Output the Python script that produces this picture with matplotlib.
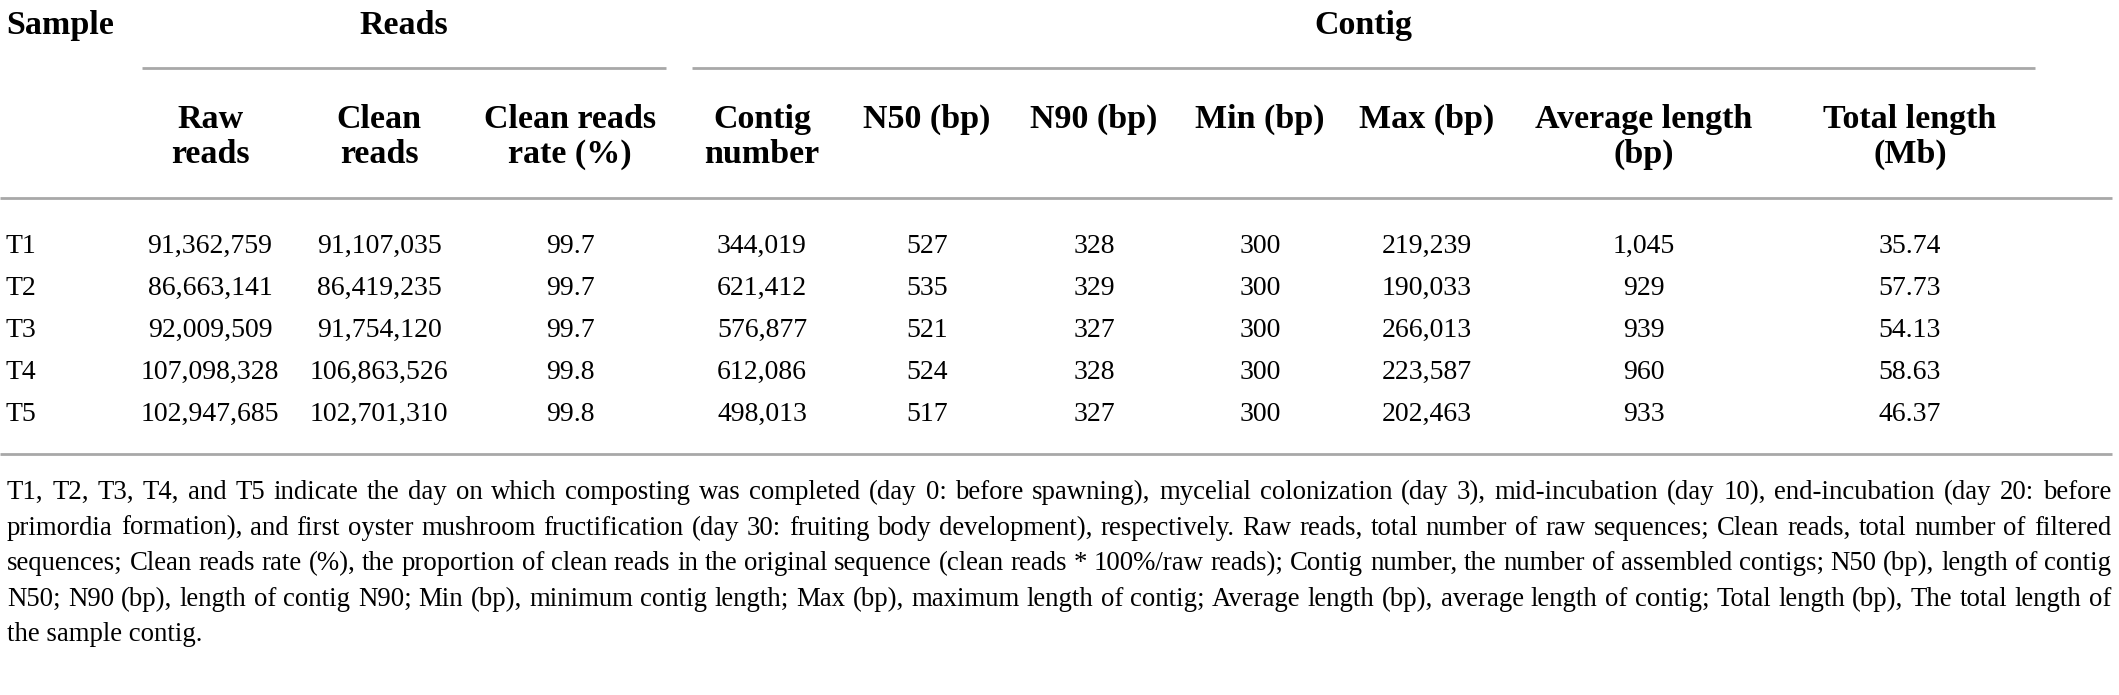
import matplotlib
matplotlib.use('Agg')
import matplotlib.pyplot as plt
from matplotlib.font_manager import FontProperties

# ---------------- data ----------------
samples = ['T1', 'T2', 'T3', 'T4', 'T5']
raw_reads = [91362759, 86663141, 92009509, 107098328, 102947685]
clean_reads = [91107035, 86419235, 91754120, 106863526, 102701310]
clean_rate = [99.7, 99.7, 99.7, 99.8, 99.8]
contig_number = [344019, 621412, 576877, 612086, 498013]
n50_bp = [527, 535, 521, 524, 517]
n90_bp = [328, 329, 327, 328, 327]
min_bp = [300, 300, 300, 300, 300]
max_bp = [219239, 190033, 266013, 223587, 202463]
avg_len_bp = [1045, 929, 939, 960, 933]
total_len_mb = [35.74, 57.73, 54.13, 58.63, 46.37]

first_header = 'Sample'
group_headers = ['Reads', 'Contig']
col_headers = [['Raw', 'reads'], ['Clean', 'reads'], ['Clean reads', 'rate (%)'],
               ['Contig', 'number'], ['N50 (bp)'], ['N90 (bp)'], ['Min (bp)'],
               ['Max (bp)'], ['Average length', '(bp)'], ['Total length', '(Mb)']]

footnote_lines = [
    "T1, T2, T3, T4, and T5 indicate the day on which composting was completed (day 0: before spawning), mycelial colonization (day 3), mid-incubation (day 10), end-incubation (day 20: before",
    "primordia formation), and first oyster mushroom fructification (day 30: fruiting body development), respectively. Raw reads, total number of raw sequences; Clean reads, total number of filtered",
    "sequences; Clean reads rate (%), the proportion of clean reads in the original sequence (clean reads * 100%/raw reads); Contig number, the number of assembled contigs; N50 (bp), length of contig",
    "N50; N90 (bp), length of contig N90; Min (bp), minimum contig length; Max (bp), maximum length of contig; Average length (bp), average length of contig; Total length (bp), The total length of",
    "the sample contig.",
]

# ---------------- formatting ----------------
columns = [
    [f"{v:,}" for v in raw_reads],
    [f"{v:,}" for v in clean_reads],
    [f"{v:.1f}" for v in clean_rate],
    [f"{v:,}" for v in contig_number],
    [f"{v}" for v in n50_bp],
    [f"{v}" for v in n90_bp],
    [f"{v}" for v in min_bp],
    [f"{v:,}" for v in max_bp],
    [f"{v:,}" for v in avg_len_bp],
    [f"{v:.2f}" for v in total_len_mb],
]

# ---------------- layout ----------------
W, H = 2119, 695
FONT = 'Liberation Serif'
LINE_C = '#a8a8a8'
LW = 2.0

fig = plt.figure(figsize=(W / 100, H / 100), dpi=100)
ax = fig.add_axes([0, 0, 1, 1])
ax.set_xlim(0, W)
ax.set_ylim(H, 0)
ax.axis('off')

col_x = [210, 379, 570, 762, 927, 1094, 1260, 1427, 1644, 1910]
group_x = [404, 1363]
group_span = [(142, 666), (692, 2035)]

HDR_FS = 24.5
DATA_FS = 20
hdr_kw = dict(fontfamily=FONT, fontweight='bold', fontsize=HDR_FS, color='black')
data_kw = dict(fontfamily=FONT, fontsize=DATA_FS, color='black')

# top-level headers
ax.text(6, 34, first_header, ha='left', va='baseline', **hdr_kw)
for gx, g in zip(group_x, group_headers):
    ax.text(gx, 34, g, ha='center', va='baseline', **hdr_kw)
for (x0, x1) in group_span:
    ax.plot([x0, x1], [68, 68], color=LINE_C, lw=LW, solid_capstyle='butt')

# column headers
for cx, lines in zip(col_x, col_headers):
    for i, t in enumerate(lines):
        ax.text(cx, 128 + i * 35, t, ha='center', va='baseline', **hdr_kw)

ax.plot([0, 2112], [198, 198], color=LINE_C, lw=LW, solid_capstyle='butt')

# data rows
row_y0, row_dy = 253, 42
for r, s in enumerate(samples):
    y = row_y0 + r * row_dy
    ax.text(6, y, s, ha='left', va='baseline', **data_kw)
    for cx, col in zip(col_x, columns):
        ax.text(cx, y, col[r], ha='center', va='baseline', **data_kw)

ax.plot([0, 2112], [454, 454], color=LINE_C, lw=LW, solid_capstyle='butt')

# footnote (justified)
fig.canvas.draw()
renderer = fig.canvas.get_renderer()
left, right = 7, 2111
target = right - left

def word_w(word, fp):
    w, h, d = renderer.get_text_width_height_descent(word, fp, ismath=False)
    return w

probe = FontProperties(family=FONT, size=20)
nat = [word_w(l, probe) for l in footnote_lines]
FN_FS = 20 * (target - 4) / max(nat)
fp = FontProperties(family=FONT, size=FN_FS)

fn_y0, fn_dy = 499, 35.6
for i, line in enumerate(footnote_lines):
    y = fn_y0 + i * fn_dy
    if i == len(footnote_lines) - 1:
        ax.text(left, y, line, ha='left', va='baseline', fontproperties=fp)
        continue
    words = line.split(' ')
    widths = [word_w(w_, fp) for w_ in words]
    gap = (target - sum(widths)) / (len(words) - 1)
    x = left
    for w_, ww in zip(words, widths):
        ax.text(x, y, w_, ha='left', va='baseline', fontproperties=fp)
        x += ww + gap

fig.savefig('out.png', dpi=100, facecolor='white')
